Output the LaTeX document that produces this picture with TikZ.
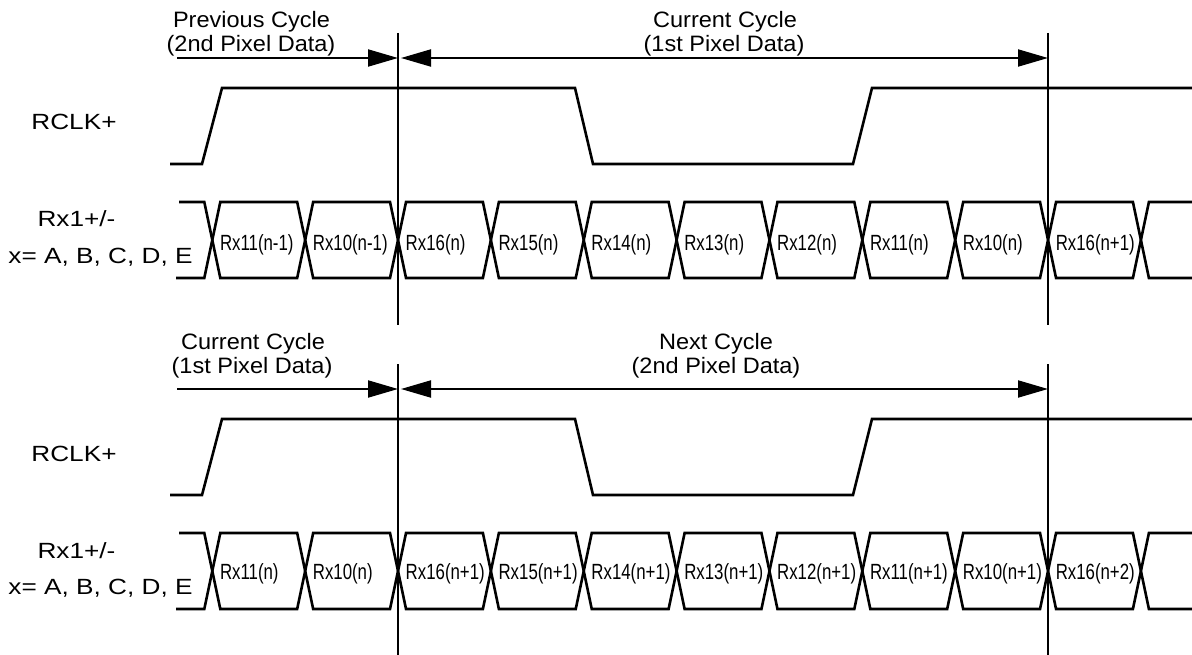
\documentclass[tikz,border=0pt]{standalone}
\usepackage{fontspec}
\setmainfont{Liberation Sans}
\usetikzlibrary{arrows.meta}
\tikzset{bigtri/.tip={Triangle[length=30pt,width=17pt]}}
\newcommand\cycscale[1]{\scalebox{1.055}[1]{#1}}
\newcommand\sidescale[1]{\scalebox{1.19}[1]{#1}}
\newcommand\datscale[1]{\scalebox{0.765}[1]{#1}}
\begin{document}
\begin{tikzpicture}[x=1pt,y=-1pt,
  sig/.style={line width=2.6pt, line join=miter},
  vline/.style={line width=1.8pt},
  arr/.style={line width=2pt},
  cyc/.style={inner sep=0pt, anchor=base, font=\fontsize{22.3}{24}\selectfont},
  side/.style={inner sep=0pt, anchor=base, font=\fontsize{22}{24}\selectfont},
  dat/.style={inner sep=0pt, anchor=base west, font=\fontsize{22}{24}\selectfont}]
\useasboundingbox (0,0) rectangle (1192,655);

\foreach \dy in {0,331} {
  % clock
  \draw[sig] (170,{164+\dy}) -- (202,{164+\dy}) -- (222,{88+\dy}) -- (575,{88+\dy})
     -- (593,{164+\dy}) -- (853,{164+\dy}) -- (872,{88+\dy}) -- (1192,{88+\dy});
  % data lines (two zigzags)
  \draw[sig] (179,{202+\dy})
    \foreach \k [evaluate=\k as \cx using 212.3+92.86*\k,
                 evaluate=\k as \ya using {mod(\k,2)==0 ? 202+\dy : 278+\dy},
                 evaluate=\k as \yb using {mod(\k,2)==0 ? 278+\dy : 202+\dy}] in {0,...,10}
      { -- ({\cx-8},\ya) -- ({\cx+8},\yb) }
    -- (1192,{278+\dy});
  \draw[sig] (176,{278+\dy})
    \foreach \k [evaluate=\k as \cx using 212.3+92.86*\k,
                 evaluate=\k as \ya using {mod(\k,2)==0 ? 278+\dy : 202+\dy},
                 evaluate=\k as \yb using {mod(\k,2)==0 ? 202+\dy : 278+\dy}] in {0,...,10}
      { -- ({\cx-8},\ya) -- ({\cx+8},\yb) }
    -- (1192,{202+\dy});
  % vertical markers
  \coordinate (va\dy) at (398,{33+\dy});
  \coordinate (vb\dy) at (398,{325+\dy});
  \coordinate (vc\dy) at (1048,{33+\dy});
  \coordinate (vd\dy) at (1048,{325+\dy});
  \draw[vline] (va\dy) -- (vb\dy);
  \draw[vline] (vc\dy) -- (vd\dy);
  % arrows
  \coordinate (aa\dy) at (177,{58+\dy});
  \coordinate (ab\dy) at (398,{58+\dy});
  \coordinate (ac\dy) at (401,{58+\dy});
  \coordinate (ad\dy) at (1048,{58+\dy});
  \draw[arr,-{bigtri}] (aa\dy) -- (ab\dy);
  \draw[arr,{bigtri}-{bigtri}] (ac\dy) -- (ad\dy);
  % side labels
  \node[side] (clk\dy) at (74,{130+\dy}) {\sidescale{RCLK+}};
  \node[side] (rx\dy) at (76.5,{227+\dy}) {\sidescale{Rx1+/-}};
  \node[side] (xs\dy) at (100.5,{263.5+\dy}) {\sidescale{x= A, B, C, D, E}};
}

% cycle labels
\node[cyc] (pc1) at (251.5,28) {\cycscale{Previous Cycle}};
\node[cyc] (pc2) at (251,52) {\cycscale{(2nd Pixel Data)}};
\node[cyc] (cc1) at (725,28) {\cycscale{Current Cycle}};
\node[cyc] (cc2) at (724,52) {\cycscale{(1st Pixel Data)}};
\node[cyc] (bc1) at (253,349) {\cycscale{Current Cycle}};
\node[cyc] (bc2) at (252,373) {\cycscale{(1st Pixel Data)}};
\node[cyc] (nc1) at (716,349) {\cycscale{Next Cycle}};
\node[cyc] (nc2) at (716,373) {\cycscale{(2nd Pixel Data)}};

% data labels
\foreach \lab [count=\i from 0, evaluate=\i as \lx using 212.3+92.86*\i+7.5] in
  {Rx11(n-1),Rx10(n-1),Rx16(n),Rx15(n),Rx14(n),Rx13(n),Rx12(n),Rx11(n),Rx10(n),Rx16(n+1)}
  { \node[dat] (dt\i) at (\lx,250.5) {\datscale{\lab}}; }
\foreach \lab [count=\i from 0, evaluate=\i as \lx using 212.3+92.86*\i+7.5] in
  {Rx11(n),Rx10(n),Rx16(n+1),Rx15(n+1),Rx14(n+1),Rx13(n+1),Rx12(n+1),Rx11(n+1),Rx10(n+1),Rx16(n+2)}
  { \node[dat] (db\i) at (\lx,579) {\datscale{\lab}}; }
\end{tikzpicture}
\end{document}
